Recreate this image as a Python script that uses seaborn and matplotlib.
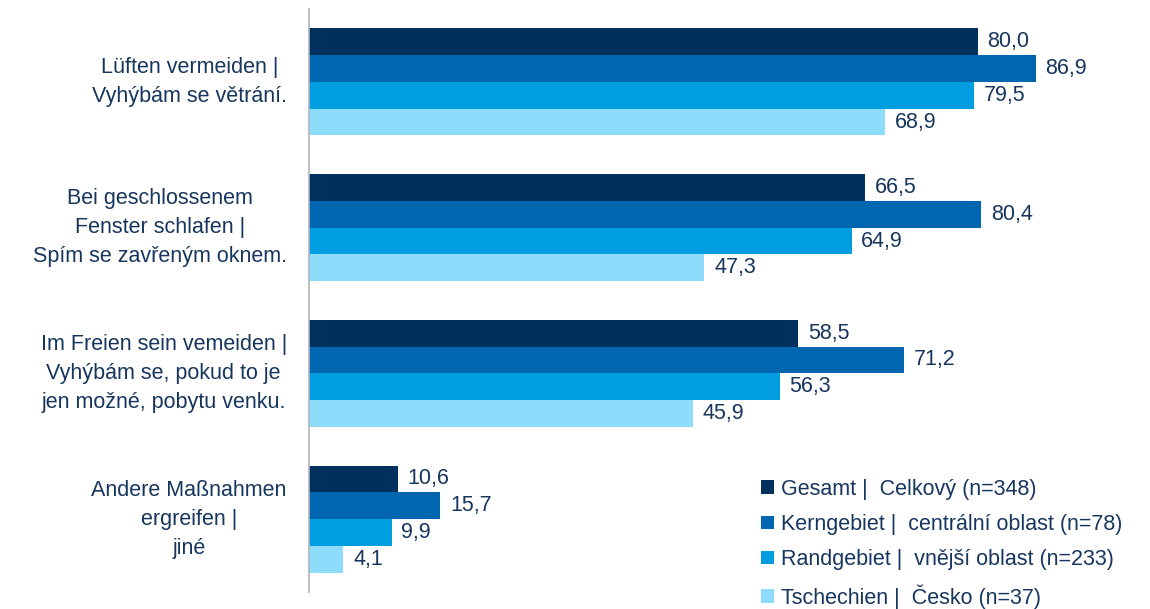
import matplotlib
matplotlib.use("Agg")
import matplotlib.pyplot as plt
from matplotlib.patches import Patch
import seaborn as sns
import pandas as pd

categories = [
    "Lüften vermeiden |\nVyhýbám se větrání.",
    "Bei geschlossenem\nFenster schlafen |\nSpím se zavřeným oknem.",
    "Im Freien sein vemeiden |\nVyhýbám se, pokud to je\njen možné, pobytu venku.",
    "Andere Maßnahmen\nergreifen |\njiné",
]
groups = [
    "Gesamt |  Celkový (n=348)",
    "Kerngebiet |  centrální oblast (n=78)",
    "Randgebiet |  vnější oblast (n=233)",
    "Tschechien |  Česko (n=37)",
]
gesamt = [80.0, 66.5, 58.5, 10.6]
kerngebiet = [86.9, 80.4, 71.2, 15.7]
randgebiet = [79.5, 64.9, 56.3, 9.9]
tschechien = [68.9, 47.3, 45.9, 4.1]

colors = ["#00305e", "#0066b0", "#009ee0", "#8edcfc"]
text_color = "#17365d"

rows = []
for g, vals in zip(groups, [gesamt, kerngebiet, randgebiet, tschechien]):
    for c, v in zip(categories, vals):
        rows.append({"Kategorie": c, "Gruppe": g, "Wert": v})
df = pd.DataFrame(rows)

sns.set_style("white")
plt.rcParams["font.family"] = ["Liberation Sans", "DejaVu Sans"]

fig = plt.figure(figsize=(11.5, 6.09), dpi=100)
ax = fig.add_axes([0.2687, 0.0279, 0.727, 0.9573])

sns.barplot(data=df, y="Kategorie", x="Wert", hue="Gruppe", order=categories,
            hue_order=groups, palette=colors, orient="h", width=0.735,
            saturation=1, edgecolor="none", linewidth=0, ax=ax, legend=False,
            errorbar=None)

for cont in ax.containers:
    labels = [f"{b.get_width():.1f}".replace(".", ",") for b in cont]
    ax.bar_label(cont, labels=labels, padding=7, fontsize=15.5, color=text_color)

ax.set_xlim(0, 100)
ax.set_ylim(len(categories) - 0.5, -0.5)
ax.set_xlabel("")
ax.set_ylabel("")
ax.set_xticks([])

ax.set_yticks(range(len(categories)))
ax.set_yticklabels(categories, fontsize=15.5, color=text_color,
                   ha="right", va="center", multialignment="center",
                   linespacing=1.5)
ax.tick_params(axis="y", which="major", length=0, pad=16)
ax.set_yticks([i - 0.5 for i in range(len(categories) + 1)], minor=True)
ax.tick_params(axis="y", which="minor", length=8, width=1.2, color="#b0b4bb",
               direction="out")

for s in ["top", "right", "bottom"]:
    ax.spines[s].set_visible(False)
ax.spines["left"].set_color("#b0b4bb")
ax.spines["left"].set_linewidth(1.2)

handles = [Patch(facecolor=c, edgecolor="none") for c in colors]
fig.legend(handles, groups, loc="lower left", bbox_to_anchor=(0.654, -0.014),
           frameon=False, fontsize=15.5, labelcolor=text_color,
           handlelength=0.6, handleheight=0.6, handletextpad=0.35,
           labelspacing=0.66, borderaxespad=0)

fig.savefig("out.png", dpi=100)
